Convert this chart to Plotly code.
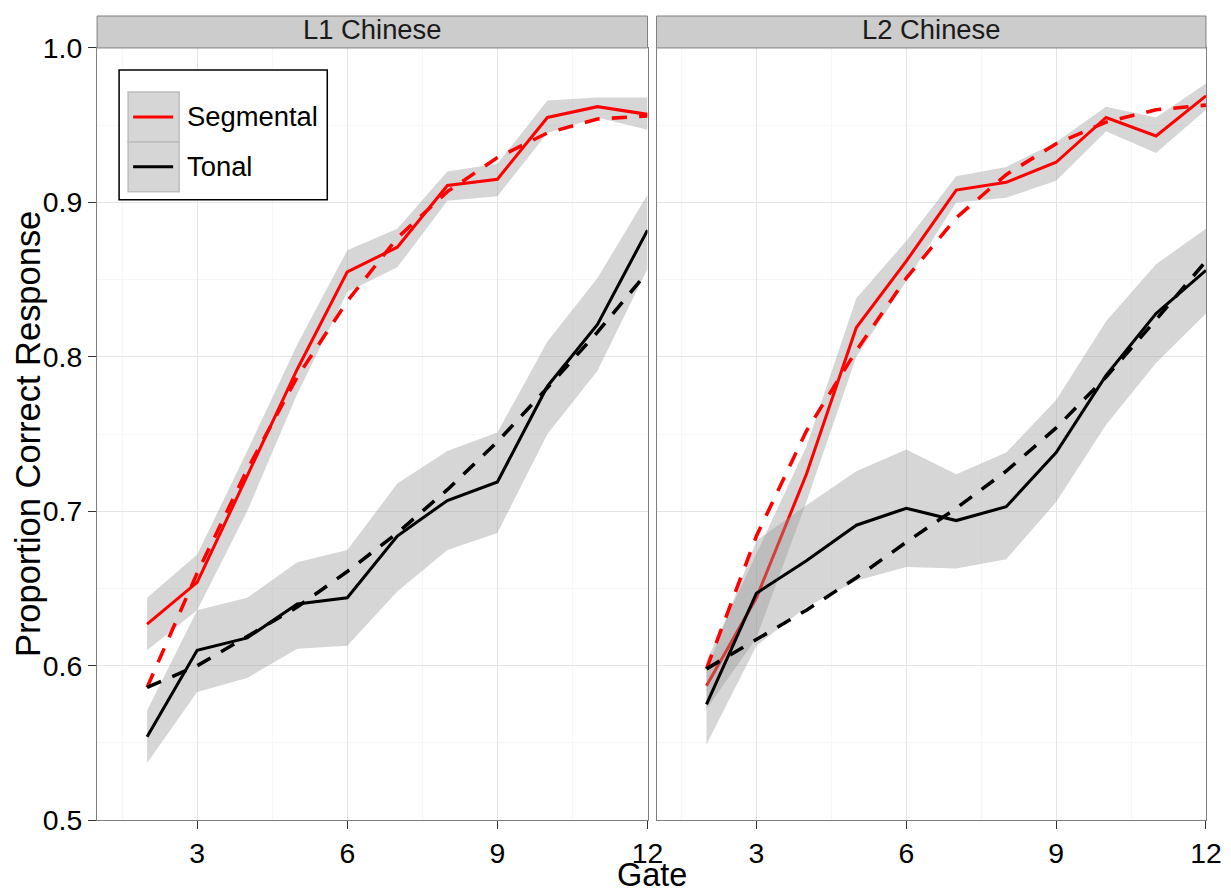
import plotly.graph_objects as go

# target picture size; page is rendered slightly larger to compensate capture scaling
W, H = 1231, 894
SX = 1.0142          # horizontal compensation
VOFF, VS = 15.0, 0.966  # vertical: picture_y = VOFF + VS * page_y
FW, FH = W * SX, H * SX
S = SX

gates = [2, 3, 4, 5, 6, 7, 8, 9, 10, 11, 12]

# L1 Chinese
l1_seg_mean = [0.627, 0.654, 0.723, 0.792, 0.855, 0.871, 0.911, 0.915, 0.955, 0.962, 0.957]
l1_seg_upper = [0.644, 0.672, 0.739, 0.808, 0.869, 0.883, 0.920, 0.925, 0.966, 0.968, 0.968]
l1_seg_lower = [0.610, 0.636, 0.700, 0.776, 0.842, 0.858, 0.901, 0.904, 0.945, 0.955, 0.947]
l1_seg_fit = [0.586, 0.660, 0.727, 0.787, 0.836, 0.877, 0.907, 0.929, 0.945, 0.954, 0.956]

l1_ton_mean = [0.554, 0.610, 0.618, 0.640, 0.644, 0.684, 0.707, 0.719, 0.781, 0.821, 0.882]
l1_ton_upper = [0.571, 0.636, 0.644, 0.667, 0.675, 0.718, 0.739, 0.751, 0.810, 0.851, 0.905]
l1_ton_lower = [0.537, 0.583, 0.592, 0.611, 0.613, 0.648, 0.675, 0.686, 0.750, 0.791, 0.857]
l1_ton_fit = [0.586, 0.600, 0.619, 0.638, 0.661, 0.686, 0.714, 0.745, 0.780, 0.816, 0.855]

# L2 Chinese
l2_seg_mean = [0.587, 0.644, 0.724, 0.819, 0.862, 0.908, 0.913, 0.926, 0.955, 0.943, 0.969]
l2_seg_upper = [0.603, 0.672, 0.742, 0.838, 0.875, 0.917, 0.923, 0.939, 0.962, 0.955, 0.977]
l2_seg_lower = [0.572, 0.618, 0.706, 0.800, 0.849, 0.900, 0.903, 0.914, 0.946, 0.932, 0.960]
l2_seg_fit = [0.598, 0.684, 0.752, 0.804, 0.851, 0.890, 0.918, 0.938, 0.952, 0.960, 0.963]

l2_ton_mean = [0.575, 0.647, 0.668, 0.691, 0.702, 0.694, 0.703, 0.738, 0.788, 0.828, 0.856]
l2_ton_upper = [0.597, 0.681, 0.704, 0.726, 0.740, 0.724, 0.738, 0.772, 0.823, 0.860, 0.883]
l2_ton_lower = [0.549, 0.613, 0.638, 0.655, 0.664, 0.663, 0.669, 0.706, 0.756, 0.796, 0.828]
l2_ton_fit = [0.598, 0.617, 0.636, 0.657, 0.680, 0.702, 0.726, 0.754, 0.787, 0.824, 0.862]

panel_titles = ["L1 Chinese", "L2 Chinese"]
series_names = ["Segmental", "Tonal"]
series_colors = ["#FF0000", "#000000"]
x_ticks = [3, 6, 9, 12]
y_ticks = [0.5, 0.6, 0.7, 0.8, 0.9, 1.0]
y_ticklabels = ["0.5", "0.6", "0.7", "0.8", "0.9", "1.0"]

FONT = "Liberation Sans, Arial, Helvetica, sans-serif"
RIBBON = "rgba(153,153,153,0.4)"


def P(xpx):
    return xpx / W


def Q(ypx):
    page_y = max(0.0, (ypx - VOFF) / VS)
    return 1 - page_y / FH


def z(v):
    return v * S


panels_px = [(97, 647), (656, 1205)]
ptop, pbot = 47, 820
strip_top = 7

panels = [
    ("x", "y", [
        (l1_seg_mean, l1_seg_upper, l1_seg_lower, l1_seg_fit),
        (l1_ton_mean, l1_ton_upper, l1_ton_lower, l1_ton_fit),
    ]),
    ("x2", "y2", [
        (l2_seg_mean, l2_seg_upper, l2_seg_lower, l2_seg_fit),
        (l2_ton_mean, l2_ton_upper, l2_ton_lower, l2_ton_fit),
    ]),
]

dash = "%.1fpx,%.1fpx" % (z(15), z(12))

fig = go.Figure()

for xa, ya, series in panels:
    for (mean, up, lo, fit), name, col in zip(series, series_names, series_colors):
        fig.add_trace(go.Scatter(
            x=gates + gates[::-1], y=up + lo[::-1], mode="lines",
            fill="toself", fillcolor=RIBBON, line=dict(width=0),
            hoverinfo="skip", showlegend=False, xaxis=xa, yaxis=ya))
        fig.add_trace(go.Scatter(
            x=gates, y=mean, mode="lines", name=name,
            line=dict(color=col, width=z(3)), showlegend=False,
            xaxis=xa, yaxis=ya))
    for (mean, up, lo, fit), name, col in zip(series, series_names, series_colors):
        fig.add_trace(go.Scatter(
            x=gates, y=fit, mode="lines", name=name + " fit",
            line=dict(color=col, width=z(3.5), dash=dash),
            showlegend=False, xaxis=xa, yaxis=ya))

common_x = dict(
    range=[1, 12], tickmode="array", tickvals=x_ticks,
    ticktext=[str(t) for t in x_ticks],
    showgrid=True, gridcolor="#E5E5E5", gridwidth=1,
    minor=dict(tick0=1.5, dtick=3, showgrid=True, gridcolor="#F7F7F7",
               gridwidth=1, ticks=""),
    showline=True, linecolor="#7F7F7F", linewidth=1, mirror=True,
    ticks="outside", ticklen=z(8), tickcolor="#333333", tickwidth=1,
    tickfont=dict(family=FONT, size=z(28), color="#000000"),
    zeroline=False, fixedrange=True,
)
common_y = dict(
    range=[0.5, 1.0], tickmode="array", tickvals=y_ticks,
    ticktext=y_ticklabels,
    showgrid=True, gridcolor="#E5E5E5", gridwidth=1,
    minor=dict(tick0=0.55, dtick=0.1, showgrid=True, gridcolor="#F7F7F7",
               gridwidth=1, ticks=""),
    showline=True, linecolor="#7F7F7F", linewidth=1, mirror=True,
    tickcolor="#333333", tickwidth=1,
    tickfont=dict(family=FONT, size=z(28), color="#000000"),
    zeroline=False, fixedrange=True,
)

fig.update_layout(
    width=FW, height=FH, autosize=False,
    margin=dict(l=0, r=0, t=0, b=0),
    paper_bgcolor="white", plot_bgcolor="white",
    showlegend=False,
    xaxis=dict(common_x, domain=[P(panels_px[0][0]), P(panels_px[0][1])], anchor="y"),
    xaxis2=dict(common_x, domain=[P(panels_px[1][0]), P(panels_px[1][1])], anchor="y2"),
    yaxis=dict(common_y, domain=[Q(pbot), Q(ptop)], anchor="x",
               ticks="outside", ticklen=z(8), showticklabels=True),
    yaxis2=dict(common_y, domain=[Q(pbot), Q(ptop)], anchor="x2",
                ticks="", showticklabels=False),
)

shapes = []
annotations = []
for (x0, x1), title in zip(panels_px, panel_titles):
    shapes.append(dict(type="rect", xref="paper", yref="paper",
                       x0=P(x0), x1=P(x1), y0=Q(ptop), y1=Q(strip_top),
                       fillcolor="#CCCCCC", line=dict(color="#7F7F7F", width=1),
                       layer="above"))
    annotations.append(dict(text=title, xref="paper", yref="paper",
                            x=P((x0 + x1) / 2), y=Q(29),
                            xanchor="center", yanchor="middle", showarrow=False,
                            font=dict(family=FONT, size=z(27), color="#1A1A1A")))

annotations.append(dict(text="Gate", xref="paper", yref="paper",
                        x=P((panels_px[0][0] + panels_px[1][1]) / 2), y=Q(875),
                        xanchor="center", yanchor="middle", showarrow=False,
                        font=dict(family=FONT, size=z(32), color="#000000")))
annotations.append(dict(text="Proportion Correct Response", xref="paper", yref="paper",
                        x=P(28), y=Q((ptop + pbot) / 2), textangle=-90,
                        xanchor="center", yanchor="middle", showarrow=False,
                        font=dict(family=FONT, size=z(34), color="#000000")))

lx0, ly0, lx1, ly1 = 119, 69, 327, 199
shapes.append(dict(type="rect", xref="paper", yref="paper",
                   x0=P(lx0), x1=P(lx1), y0=Q(ly1), y1=Q(ly0),
                   fillcolor="white", line=dict(color="black", width=z(1.5)),
                   layer="above"))
for i, (name, col) in enumerate(zip(series_names, series_colors)):
    ky0 = 91 + i * 50
    ky1 = ky0 + 50
    kyc = (ky0 + ky1) / 2
    shapes.append(dict(type="rect", xref="paper", yref="paper",
                       x0=P(128), x1=P(179), y0=Q(ky1), y1=Q(ky0),
                       fillcolor="#D6D6D6", line=dict(color="#BDBDBD", width=z(1.5)),
                       layer="above"))
    shapes.append(dict(type="line", xref="paper", yref="paper",
                       x0=P(133), x1=P(173), y0=Q(kyc), y1=Q(kyc),
                       line=dict(color=col, width=z(3)), layer="above"))
    annotations.append(dict(text=name, xref="paper", yref="paper",
                            x=P(185), y=Q(kyc), xanchor="left", yanchor="middle",
                            showarrow=False,
                            font=dict(family=FONT, size=z(27), color="#000000")))

fig.update_layout(shapes=shapes, annotations=annotations)

post = (
    "document.documentElement.style.margin='0';"
    "document.documentElement.style.padding='0';"
    "document.body.style.margin='0';"
    "document.body.style.padding='0';"
)

fig.write_html("out.html", post_script=post, config={"displayModeBar": False})
